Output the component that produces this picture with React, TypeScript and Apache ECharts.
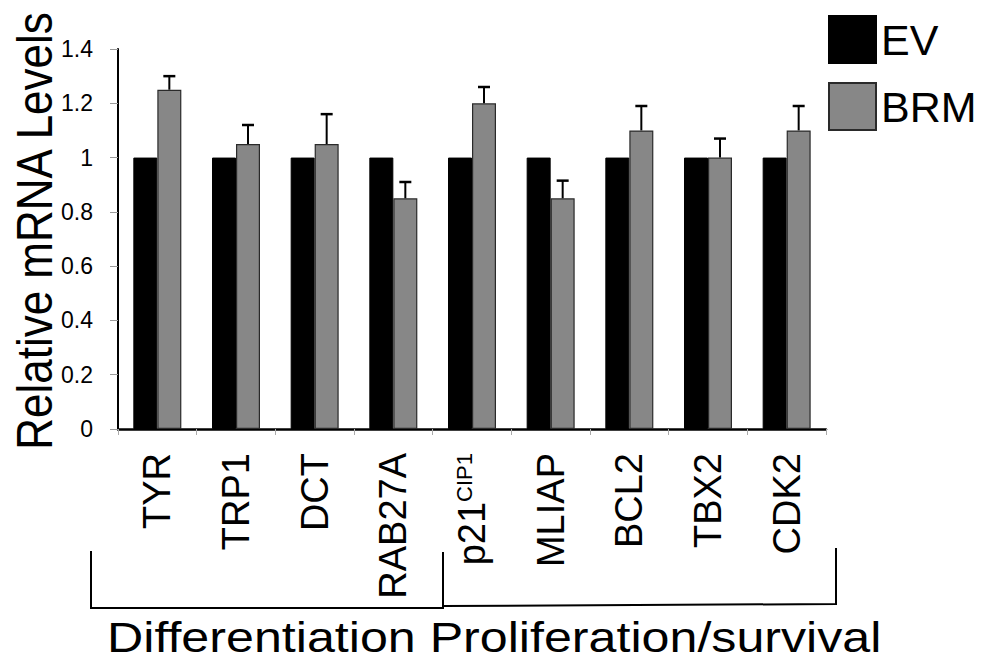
import React, { useEffect, useRef } from "react";
import * as echarts from "echarts";

const categories = ["TYR", "TRP1", "DCT", "RAB27A", "p21CIP1", "MLIAP", "BCL2", "TBX2", "CDK2"];
const evValues = [1, 1, 1, 1, 1, 1, 1, 1, 1];
const brmValues = [1.25, 1.05, 1.05, 0.85, 1.2, 0.85, 1.1, 1.0, 1.1];
const brmErrors = [0.05, 0.07, 0.11, 0.06, 0.06, 0.065, 0.09, 0.07, 0.09];
const seriesNames = ["EV", "BRM"];
const yTitle = "Relative mRNA Levels";
const groupCaption = "Differentiation Proliferation/survival";

const FONT = "'Liberation Sans', Arial, sans-serif";
const BAR_W = 24;

export default function App() {
  const ref = useRef<HTMLDivElement>(null);

  useEffect(() => {
    document.body.style.margin = "0";
    if (!ref.current) return;
    const chart = echarts.init(ref.current, null, { renderer: "svg" });

    const option: any = {
      animation: false,
      backgroundColor: "#ffffff",
      textStyle: { fontFamily: FONT, color: "#000" },
      grid: { left: 118, right: 160, top: 49, bottom: 235, containLabel: false },
      legend: {
        data: seriesNames,
        orient: "vertical",
        left: 828,
        top: 15,
        padding: 0,
        itemWidth: 47,
        itemHeight: 47,
        itemGap: 18,
        icon: "rect",
        textStyle: { fontSize: 43, color: "#000", fontFamily: FONT },
      },
      xAxis: {
        type: "category",
        data: categories,
        axisLine: { lineStyle: { color: "#000", width: 2.5 } },
        axisTick: { show: true, length: 6, lineStyle: { color: "#aaa", width: 1 } },
        axisLabel: {
          interval: 0,
          rotate: 90,
          margin: 24,
          fontSize: 38,
          color: "#000",
          fontFamily: FONT,
          formatter: (v: string) => (v === "p21CIP1" ? "{a|p21}{b|CIP1}" : v),
          rich: {
            a: { fontSize: 38, fontFamily: FONT, color: "#000" },
            b: { fontSize: 22, fontFamily: FONT, color: "#000", verticalAlign: "top", lineHeight: 38 },
          },
        },
      },
      yAxis: {
        type: "value",
        min: 0,
        max: 1.4,
        interval: 0.2,
        splitLine: { show: false },
        axisLine: { show: true, lineStyle: { color: "#000", width: 2 } },
        axisTick: { show: true, length: 8, lineStyle: { color: "#999", width: 1 } },
        axisLabel: {
          margin: 25,
          fontSize: 23,
          color: "#000",
          fontFamily: FONT,
          formatter: (v: number) => String(Math.round(v * 10) / 10),
        },
      },
      series: [
        {
          name: "EV",
          type: "bar",
          data: evValues,
          barWidth: BAR_W,
          barGap: "0%",
          itemStyle: { color: "#000", borderColor: "#000", borderWidth: 1 },
        },
        {
          name: "BRM",
          type: "bar",
          data: brmValues,
          barWidth: BAR_W,
          barGap: "0%",
          itemStyle: { color: "#878787", borderColor: "#2a2a2a", borderWidth: 1.2 },
        },
        {
          name: "BRM error",
          type: "custom",
          z: 5,
          data: categories.map((_, i) => [i, brmValues[i], brmErrors[i]]),
          renderItem: (params: any, api: any) => {
            const i = api.value(0);
            const v = api.value(1);
            const e = api.value(2);
            const base = api.coord([i, v]);
            const top = api.coord([i, v + e]);
            const x = base[0] + BAR_W / 2;
            return {
              type: "group",
              children: [
                {
                  type: "line",
                  shape: { x1: x, y1: base[1], x2: x, y2: top[1] },
                  style: { stroke: "#000", lineWidth: 2 },
                },
                {
                  type: "line",
                  shape: { x1: x - 6, y1: top[1], x2: x + 6, y2: top[1] },
                  style: { stroke: "#000", lineWidth: 2.5 },
                },
              ],
            };
          },
        },
      ],
      graphic: [
        {
          type: "text",
          x: 35,
          y: 231,
          rotation: Math.PI / 2,
          scaleY: 1.13,
          style: {
            text: yTitle,
            fontSize: 44,
            fontFamily: FONT,
            fill: "#000",
            align: "center",
            verticalAlign: "middle",
          },
        },
        {
          type: "text",
          x: 107,
          y: 637,
          scaleX: 1.195,
          style: {
            text: groupCaption,
            fontSize: 42,
            fontFamily: FONT,
            fill: "#000",
            align: "left",
            verticalAlign: "middle",
          },
        },
        {
          type: "polyline",
          shape: { points: [[91, 551], [91, 608], [443, 608], [443, 552]] },
          style: { stroke: "#000", lineWidth: 2, fill: null },
        },
        {
          type: "polyline",
          shape: { points: [[443, 606], [836, 604], [836, 548]] },
          style: { stroke: "#000", lineWidth: 2, fill: null },
        },
      ],
    };

    chart.setOption(option);
    return () => chart.dispose();
  }, []);

  return <div ref={ref} style={{ width: 986, height: 664 }} />;
}
